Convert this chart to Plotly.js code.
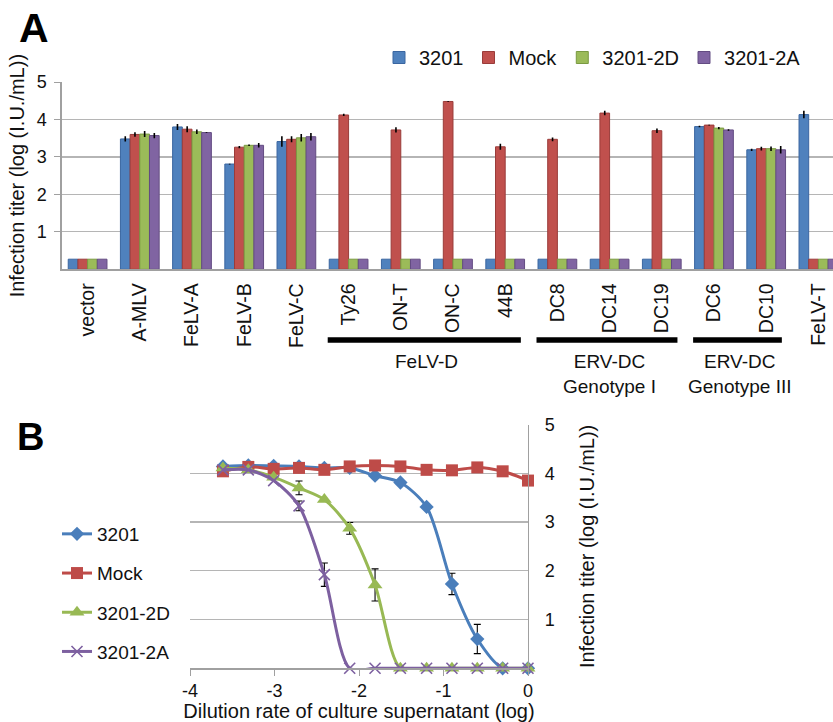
<!DOCTYPE html>
<html>
<head>
<meta charset="utf-8">
<script src="https://cdn.plot.ly/plotly-3.0.1.min.js"></script>
<style>html,body{margin:0;padding:0;background:#fff;}#chart{width:833px;height:722px;}</style>
</head>
<body>
<div id="chart"></div>
<script>
// ---------- Panel A data ----------
const catsA = ["vector","A-MLV","FeLV-A","FeLV-B","FeLV-C","Ty26","ON-T","ON-C","44B","DC8","DC14","DC19","DC6","DC10","FeLV-T"];
const a3201   = [0.27,3.48,3.80,2.81,3.41,0.27,0.27,0.27,0.27,0.27,0.27,0.27,3.81,3.19,4.13];
const aMock   = [0.27,3.60,3.74,3.26,3.47,4.12,3.72,4.48,3.27,3.47,4.17,3.70,3.85,3.22,0.27];
const a2D     = [0.27,3.61,3.67,3.31,3.51,0.27,0.27,0.27,0.27,0.27,0.27,0.27,3.77,3.22,0.27];
const a2A     = [0.27,3.57,3.65,3.31,3.54,0.27,0.27,0.27,0.27,0.27,0.27,0.27,3.72,3.19,0.27];
const e3201   = [NaN,0.07,0.08,0.01,0.14,NaN,NaN,NaN,NaN,NaN,NaN,NaN,0.02,0.03,0.10];
const eMock   = [NaN,0.06,0.08,0.03,0.08,0.03,0.07,0.01,0.08,0.05,0.06,0.06,0.01,0.05,NaN];
const e2D     = [NaN,0.08,0.06,0.02,0.10,NaN,NaN,NaN,NaN,NaN,NaN,NaN,0.03,0.06,NaN];
const e2A     = [NaN,0.07,0.01,0.06,0.10,NaN,NaN,NaN,NaN,NaN,NaN,NaN,0.02,0.10,NaN];
const groupLabels = ["FeLV-D","ERV-DC<br>Genotype I","ERV-DC<br>Genotype III"];
const groupFrom = ["Ty26","DC8","DC6"];
const groupTo   = ["44B","DC19","DC10"];

// ---------- Panel B data ----------
const dil   = [-3.61,-3.31,-3.01,-2.71,-2.41,-2.11,-1.81,-1.51,-1.20,-0.90,-0.60,-0.30,0];
const b3201 = [4.14,4.16,4.15,4.14,4.11,4.11,3.95,3.81,3.31,1.73,0.60,0,0];
const bMock = [4.04,4.13,4.09,4.11,4.07,4.14,4.16,4.14,4.07,4.06,4.12,4.04,3.85];
const b2D   = [4.11,4.07,3.92,3.70,3.46,2.87,1.71,0,0,0,0,0,0];
const b2A   = [4.07,4.07,3.85,3.33,1.92,0,0,0,0,0,0,0,0];
const be3201 = [NaN,NaN,NaN,NaN,NaN,NaN,NaN,NaN,NaN,0.22,0.30,NaN,NaN];
const beMock = [NaN,NaN,NaN,NaN,NaN,NaN,NaN,NaN,NaN,NaN,NaN,NaN,NaN];
const be2D   = [NaN,NaN,NaN,0.14,NaN,0.12,0.33,NaN,NaN,NaN,NaN,NaN,NaN];
const be2A   = [NaN,NaN,NaN,0.10,0.24,NaN,NaN,NaN,NaN,NaN,NaN,NaN,NaN];
const seriesNames = ["3201","Mock","3201-2D","3201-2A"];

const FONT = "Liberation Sans, Arial, sans-serif";
const fill = ["#4F81BD","#C0504D","#9BBB59","#8064A2"];
const edge = ["#3A66A0","#9A3C3A","#7A9A42","#634C82"];
const lineCol = ["#4A7EBB","#BE4B48","#98B954","#7D60A0"];

const valsA = [a3201,aMock,a2D,a2A];
const errsA = [e3201,eMock,e2D,e2A];
const traces = [];
valsA.forEach((v,i)=>{
  traces.push({
    type:"bar", x:catsA, y:v, name:seriesNames[i], xaxis:"x", yaxis:"y",
    legend:"legend",
    marker:{color:fill[i], line:{color:edge[i], width:1}},
    error_y:{type:"data", array:errsA[i], visible:true, color:"#000", thickness:1.6, width:0},
    hoverinfo:"x+y"
  });
});
const valsB = [b3201,bMock,b2D,b2A];
const errsB = [be3201,beMock,be2D,be2A];
const syms = ["diamond","square","triangle-up","x-thin-open"];
const sizes = [11,12,13,11];
valsB.forEach((v,i)=>{
  traces.push({
    type:"scatter", mode:"lines+markers", x:dil, y:v, name:seriesNames[i],
    xaxis:"x2", yaxis:"y2", legend:"legend2", legendgroup:"g"+i,
    line:{color:lineCol[i], width:3, shape:"spline", smoothing:0.8},
    marker:{symbol:syms[i], size:sizes[i], color:lineCol[i], line:{color:lineCol[i], width: i===3?1.6:0}},
    error_y:{type:"data", array:errsB[i], visible:true, color:"#000", thickness:1.1, width:3.5},
    cliponaxis:false
  });
});

const grid = "#b5b5b5";
const shapes = [];
const annotations = [];
for(let g=0; g<groupLabels.length; g++){
  const i0 = catsA.indexOf(groupFrom[g]);
  const i1 = catsA.indexOf(groupTo[g]);
  shapes.push({type:"line", xref:"x", yref:"paper", x0:i0-0.4, x1:i1+0.3, y0:1-340/722, y1:1-340/722,
               line:{color:"#000", width:5.5}});
  annotations.push({xref:"x", yref:"paper", x:(i0+i1)/2, y:1-349/722, yanchor:"top", xanchor:"center",
               showarrow:false, text:groupLabels[g], font:{family:FONT, size:19, color:"#111"}});
}
annotations.push({xref:"paper", yref:"paper", x:17/833, y:1-3/722, xanchor:"left", yanchor:"top",
  showarrow:false, text:"<b>A</b>", font:{family:FONT, size:41, color:"#000"}});
annotations.push({xref:"paper", yref:"paper", x:15/833, y:1-414/722, xanchor:"left", yanchor:"top",
  showarrow:false, text:"<b>B</b>", font:{family:FONT, size:38, color:"#000"}});

const layout = {
  width:833, height:722,
  margin:{l:0, r:0, t:0, b:0},
  paper_bgcolor:"#fff", plot_bgcolor:"#fff",
  font:{family:FONT, size:18, color:"#111"},
  barmode:"group", bargap:0.258, bargroupgap:0,
  showlegend:true,
  legend:{orientation:"h", x:379/833, y:1-38/722, xanchor:"left", yanchor:"top",
          font:{family:FONT, size:20, color:"#111"}, bgcolor:"rgba(0,0,0,0)", itemclick:false, traceorder:"normal"},
  legend2:{orientation:"v", x:57/833, y:1-515/722, xanchor:"left", yanchor:"top",
          font:{family:FONT, size:19, color:"#111"}, bgcolor:"rgba(0,0,0,0)", tracegroupgap:11.5, traceorder:"grouped"},
  xaxis:{domain:[61.5/833, 1], range:[-0.5, 14.28], type:"category", anchor:"y", automargin:false,
         showline:true, linecolor:"#a0a0a0", linewidth:1.2, ticks:"", tickangle:-90, ticklabelstandoff:5,
         tickfont:{family:FONT, size:19.5, color:"#111"}, showgrid:false, fixedrange:true},
  yaxis:{domain:[1-269.3/722, 1-82/722], range:[0,5], anchor:"x", automargin:false,
         tickvals:[1,2,3,4,5], ticks:"outside", ticklen:6, tickcolor:"#a0a0a0",
         showline:true, linecolor:"#a0a0a0", linewidth:1.2, ticklabelstandoff:4,
         showgrid:true, gridcolor:grid, gridwidth:1.2, zeroline:false,
         tickfont:{family:FONT, size:18, color:"#111"},
         title:{text:"Infection titer (log (I.U./mL))", font:{family:FONT, size:20, color:"#111"}, standoff:6}},
  xaxis2:{domain:[190/833, 528/833], range:[-4,0], anchor:"y2", automargin:false,
         tickvals:[-4,-3,-2,-1,0], ticktext:["-4","-3","-2","-1","0"], ticks:"outside", ticklen:6, tickcolor:"#a0a0a0",
         showline:true, linecolor:"#a0a0a0", linewidth:1.2, showgrid:false, zeroline:false,
         tickfont:{family:FONT, size:18, color:"#111"},
         title:{text:"Dilution rate of culture supernatant (log)", font:{family:FONT, size:20, color:"#111"}, standoff:2}},
  yaxis2:{domain:[1-668.3/722, 1-424.5/722], range:[0,5], anchor:"x2", side:"right", automargin:false,
         tickvals:[1,2,3,4,5], ticks:"", showline:true, linecolor:"#a0a0a0", linewidth:1.2,
         showgrid:true, gridcolor:grid, gridwidth:1.2, zeroline:false, ticklabelstandoff:12,
         tickfont:{family:FONT, size:18, color:"#111"},
         title:{text:"Infection titer (log (I.U./mL))", font:{family:FONT, size:20, color:"#111"}, standoff:26}},
  shapes:shapes, annotations:annotations
};

Plotly.newPlot("chart", traces, layout, {staticPlot:true, displayModeBar:false});
</script>
</body>
</html>
